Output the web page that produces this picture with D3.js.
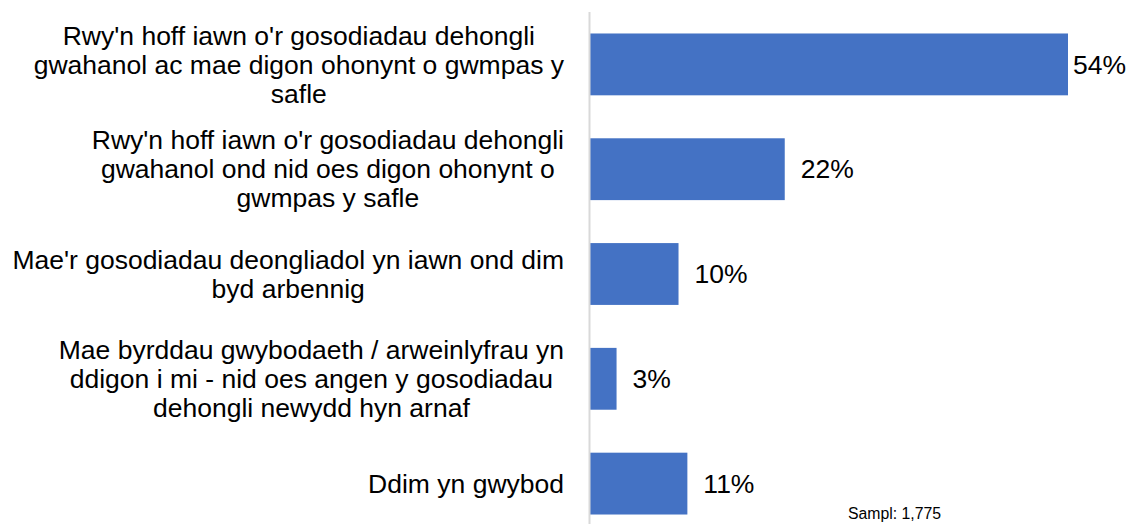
<!DOCTYPE html>
<html>
<head>
<meta charset="utf-8">
<script src="https://cdn.jsdelivr.net/npm/d3@7"></script>
<style>
  body { margin: 0; background: #fff; }
  svg { display: block; font-family: "Liberation Sans", Arial, sans-serif; }
</style>
</head>
<body>
<div class="container"></div>
<script>
// chart data
var categories = [
  ["Rwy'n hoff iawn o'r gosodiadau dehongli", "gwahanol ac mae digon ohonynt o gwmpas y", "safle"],
  ["Rwy'n hoff iawn o'r gosodiadau dehongli", "gwahanol ond nid oes digon ohonynt o", "gwmpas y safle"],
  ["Mae'r gosodiadau deongliadol yn iawn ond dim", "byd arbennig"],
  ["Mae byrddau gwybodaeth / arweinlyfrau yn", "ddigon i mi - nid oes angen y gosodiadau", "dehongli newydd hyn arnaf"],
  ["Ddim yn gwybod"]
];
var values = [54, 22, 10, 3, 11];
var sampleNote = "Sampl: 1,775";

var opts = {width: 1129, height: 524, axisX: 589.5, labelRight: 564,
            lineHeight: 29, fontSize: 26.5};

var svg = d3.select(".container").append("svg")
    .attr("width", opts.width)
    .attr("height", opts.height);

var x = d3.scaleLinear().domain([0, 54]).range([590, 1068]);
var y = d3.scaleBand()
    .domain(d3.range(values.length))
    .range([12, 536])
    .paddingInner(0.41)
    .paddingOuter(0.205);

// bars
svg.selectAll("rect.bar")
    .data(values)
  .enter().append("rect")
    .attr("class", "bar")
    .attr("fill", "#4472C4")
    .attr("x", x(0))
    .attr("y", function(d, i){ return y(i); })
    .attr("width", function(d){ return x(d) - x(0); })
    .attr("height", y.bandwidth());

// axis line
svg.append("line")
    .attr("x1", opts.axisX).attr("x2", opts.axisX)
    .attr("y1", 12).attr("y2", opts.height)
    .attr("stroke", "#d9d9d9")
    .attr("stroke-width", 2);

// category labels (centred block, right edge at labelRight)
categories.forEach(function(lines, i){
  var g = svg.append("text")
      .attr("font-size", opts.fontSize)
      .attr("fill", "#000")
      .attr("text-anchor", "middle");
  var cy = y(i) + y.bandwidth() / 2;
  var top = cy - (lines.length - 1) * opts.lineHeight / 2;
  var spans = lines.map(function(l, j){
    return g.append("tspan")
        .attr("y", top + j * opts.lineHeight)
        .attr("dy", "0.35em")
        .text(l);
  });
  var maxW = d3.max(spans, function(s){ return s.node().getComputedTextLength(); });
  spans.forEach(function(s){ s.attr("x", opts.labelRight - maxW / 2); });
});

// value labels
svg.selectAll("text.val")
    .data(values)
  .enter().append("text")
    .attr("class", "val")
    .attr("font-size", opts.fontSize)
    .attr("fill", "#000")
    .attr("y", function(d, i){ return y(i) + y.bandwidth() / 2; })
    .attr("dy", "0.35em")
    .text(function(d){ return d + "%"; })
    .attr("x", function(d){
      var w = this.getComputedTextLength();
      return Math.min(x(d) + 16, opts.width - 3 - w);
    });

svg.append("text")
    .attr("x", 848).attr("y", 519)
    .attr("font-size", 15.8)
    .attr("fill", "#000")
    .text(sampleNote);
</script>
</body>
</html>
